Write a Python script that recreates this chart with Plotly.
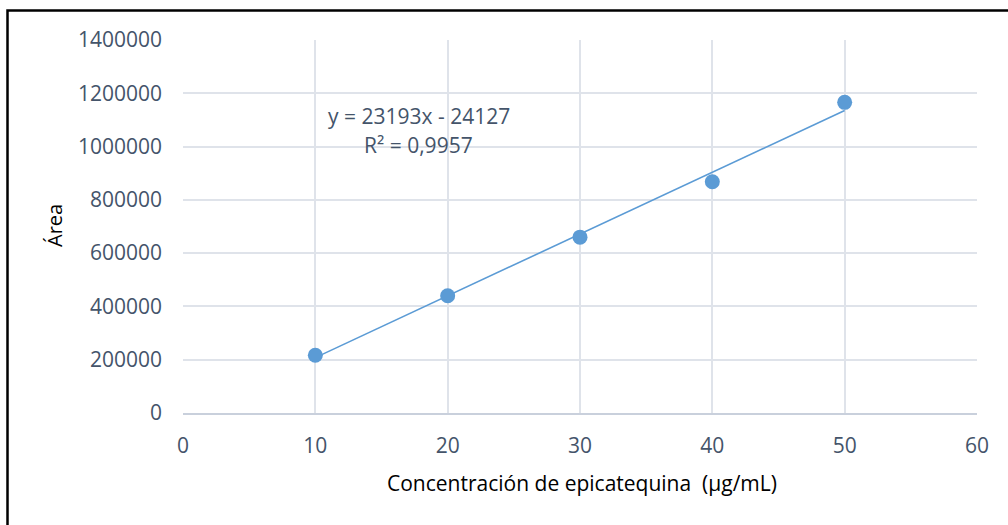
import numpy as np
import plotly.graph_objects as go

# Data
concentration = [10, 20, 30, 40, 50]
area = [217000, 440000, 660000, 868000, 1166000]

# Trend line as displayed on the chart
slope = 23193
intercept = -24127
equation_text = "y = 23193x - 24127"
r2_text = "R² = 0,9957"

x_title = "Concentración de epicatequina  (µg/mL)"
y_title = "Área"

W, H = 1008, 525
L, R, T, B = 183, 31, 40, 112
PW, PH = W - L - R, H - T - B


def px_x(p):
    return (p - L) / PW


def px_y(p):
    return (H - B - p) / PH


fit_x = np.array([concentration[0], concentration[-1]])
fit_y = slope * fit_x + intercept

blue = "#5B9BD5"
tick_color = "#44546A"
grid_color = "#DFE3EA"
font_family = "Open Sans, Noto Sans, sans-serif"

fig = go.Figure()
fig.add_trace(go.Scatter(x=fit_x, y=fit_y, mode="lines",
                         line=dict(color=blue, width=1.6),
                         hoverinfo="skip", showlegend=False))
fig.add_trace(go.Scatter(x=concentration, y=area, mode="markers",
                         marker=dict(color=blue, size=15,
                                     line=dict(width=0)),
                         showlegend=False))

fig.update_layout(
    width=W, height=H,
    margin=dict(l=L, r=R, t=T, b=B, pad=0),
    paper_bgcolor="white", plot_bgcolor="white",
    font=dict(family=font_family, color=tick_color, size=21),
    showlegend=False,
    xaxis=dict(range=[0, 60], dtick=10, tick0=0, showgrid=True,
               gridcolor=grid_color, gridwidth=1.5, zeroline=False,
               showline=True, linecolor="#C9D0DC", linewidth=1.5,
               ticks="", ticklabelstandoff=13, mirror=False,
               tickfont=dict(size=21, color=tick_color)),
    yaxis=dict(range=[0, 1400000], dtick=200000, tick0=0, showgrid=True,
               gridcolor=grid_color, gridwidth=1.5, zeroline=False,
               showline=False, ticks="", tickformat="d",
               ticklabelstandoff=20,
               tickfont=dict(size=21, color=tick_color)),
    annotations=[
        dict(text=x_title, xref="paper", yref="paper",
             x=px_x(582), y=px_y(483), showarrow=False,
             xanchor="center", yanchor="middle",
             font=dict(size=21, color="#000000", family=font_family)),
        dict(text=y_title, xref="paper", yref="paper",
             x=px_x(54), y=px_y(226), showarrow=False, textangle=-90,
             xanchor="center", yanchor="middle",
             font=dict(size=20, color="#000000", family=font_family)),
        dict(text=equation_text, xref="paper", yref="paper",
             x=px_x(419), y=px_y(116), showarrow=False,
             xanchor="center", yanchor="middle",
             font=dict(size=21, color=tick_color, family=font_family)),
        dict(text=r2_text, xref="paper", yref="paper",
             x=px_x(418), y=px_y(145), showarrow=False,
             xanchor="center", yanchor="middle",
             font=dict(size=21, color=tick_color, family=font_family)),
    ],
    shapes=[
        dict(type="rect", xref="paper", yref="paper",
             x0=px_x(7.5), y0=px_y(10.5), x1=px_x(1030), y1=px_y(560),
             line=dict(color="black", width=2.5), fillcolor="rgba(0,0,0,0)",
             layer="above"),
    ],
)

fig.write_html("out.html")
